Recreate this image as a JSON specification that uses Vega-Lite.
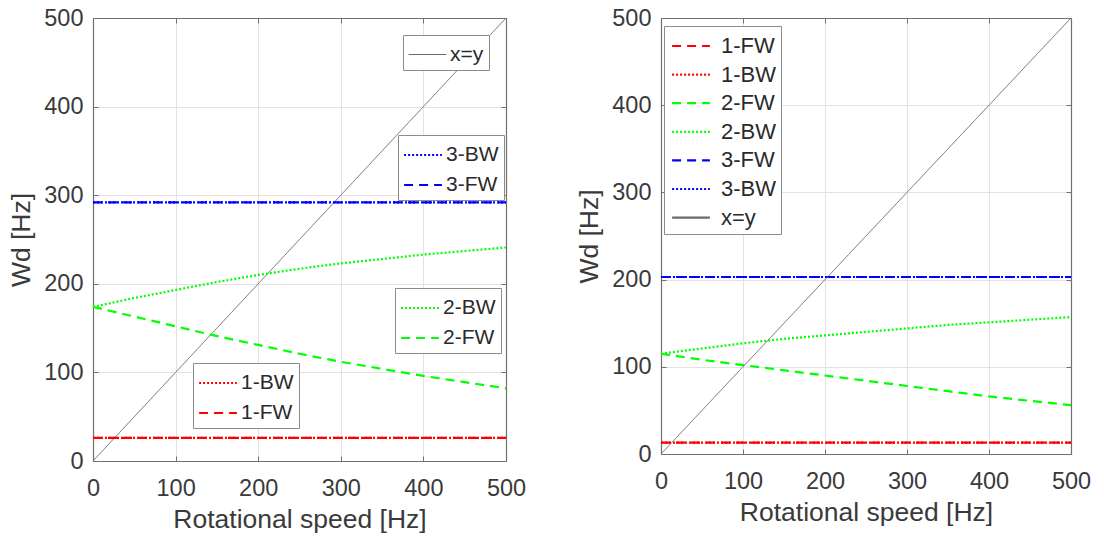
{
  "$schema": "https://vega.github.io/schema/vega-lite/v6.json",
  "padding": {"left": 8, "top": 6, "right": 0, "bottom": 0},
  "bounds": "flush",
  "spacing": 155,
  "background": "white",
  "config": {
    "font": "Liberation Sans",
    "view": {"stroke": null},
    "axis": {
      "labelFont": "Liberation Sans",
      "labelFontSize": 23.5,
      "labelColor": "#3a3a3a",
      "labelFlush": false,
      "titleFont": "Liberation Sans",
      "titleFontSize": 26.5,
      "titleFontWeight": "normal",
      "titleColor": "#3a3a3a",
      "gridColor": "#e2e2e2",
      "gridWidth": 1,
      "domainColor": "#707070",
      "domainWidth": 1.2,
      "tickColor": "#707070",
      "tickSize": -5
    },
    "axisX": {"labelPadding": 20, "titlePadding": 7},
    "axisY": {"labelPadding": 15, "titlePadding": 8},
    "legend": {
      "symbolType": "M-1.4,0H1.4",
      "symbolSize": 729,
      "symbolOffset": 5,
      "symbolStrokeWidth": 2.2,
      "labelFont": "Liberation Sans",
      "labelFontSize": 21,
      "labelColor": "#2a2a2a",
      "labelLimit": 0,
      "labelOffset": 8,
      "padding": 5,
      "rowPadding": 5,
      "strokeColor": "#8c8c8c",
      "fillColor": "white",
      "orient": "none"
    }
  },
  "datasets": {
    "speedA": [
      {"series": "x=y", "speed": 0, "freq": 0},
      {"series": "x=y", "speed": 500, "freq": 500},
      {"series": "1-BW", "speed": 0, "freq": 26},
      {"series": "1-BW", "speed": 500, "freq": 26},
      {"series": "1-FW", "speed": 0, "freq": 26},
      {"series": "1-FW", "speed": 500, "freq": 26},
      {"series": "3-BW", "speed": 0, "freq": 292},
      {"series": "3-BW", "speed": 500, "freq": 292},
      {"series": "3-FW", "speed": 0, "freq": 292},
      {"series": "3-FW", "speed": 500, "freq": 292},
      {"series": "2-BW", "speed": 0, "freq": 174},
      {"series": "2-BW", "speed": 50, "freq": 184},
      {"series": "2-BW", "speed": 100, "freq": 193},
      {"series": "2-BW", "speed": 150, "freq": 202},
      {"series": "2-BW", "speed": 200, "freq": 210},
      {"series": "2-BW", "speed": 250, "freq": 217},
      {"series": "2-BW", "speed": 300, "freq": 223},
      {"series": "2-BW", "speed": 350, "freq": 228},
      {"series": "2-BW", "speed": 400, "freq": 233},
      {"series": "2-BW", "speed": 450, "freq": 237},
      {"series": "2-BW", "speed": 500, "freq": 241},
      {"series": "2-FW", "speed": 0, "freq": 174},
      {"series": "2-FW", "speed": 50, "freq": 163},
      {"series": "2-FW", "speed": 100, "freq": 152},
      {"series": "2-FW", "speed": 150, "freq": 141},
      {"series": "2-FW", "speed": 200, "freq": 131},
      {"series": "2-FW", "speed": 250, "freq": 121},
      {"series": "2-FW", "speed": 300, "freq": 112},
      {"series": "2-FW", "speed": 350, "freq": 104},
      {"series": "2-FW", "speed": 400, "freq": 96},
      {"series": "2-FW", "speed": 450, "freq": 89},
      {"series": "2-FW", "speed": 500, "freq": 82}
    ],
    "speedB": [
      {"series": "1-FW", "speed": 0, "freq": 13},
      {"series": "1-FW", "speed": 500, "freq": 13},
      {"series": "1-BW", "speed": 0, "freq": 13},
      {"series": "1-BW", "speed": 500, "freq": 13},
      {"series": "2-FW", "speed": 0, "freq": 115},
      {"series": "2-FW", "speed": 50, "freq": 108},
      {"series": "2-FW", "speed": 100, "freq": 102},
      {"series": "2-FW", "speed": 150, "freq": 96},
      {"series": "2-FW", "speed": 200, "freq": 90},
      {"series": "2-FW", "speed": 250, "freq": 84},
      {"series": "2-FW", "speed": 300, "freq": 78},
      {"series": "2-FW", "speed": 350, "freq": 72},
      {"series": "2-FW", "speed": 400, "freq": 66},
      {"series": "2-FW", "speed": 450, "freq": 61},
      {"series": "2-FW", "speed": 500, "freq": 56},
      {"series": "2-BW", "speed": 0, "freq": 115},
      {"series": "2-BW", "speed": 50, "freq": 121},
      {"series": "2-BW", "speed": 100, "freq": 127},
      {"series": "2-BW", "speed": 150, "freq": 132},
      {"series": "2-BW", "speed": 200, "freq": 136},
      {"series": "2-BW", "speed": 250, "freq": 140},
      {"series": "2-BW", "speed": 300, "freq": 144},
      {"series": "2-BW", "speed": 350, "freq": 148},
      {"series": "2-BW", "speed": 400, "freq": 151},
      {"series": "2-BW", "speed": 450, "freq": 154},
      {"series": "2-BW", "speed": 500, "freq": 157},
      {"series": "3-FW", "speed": 0, "freq": 203},
      {"series": "3-FW", "speed": 500, "freq": 203},
      {"series": "3-BW", "speed": 0, "freq": 203},
      {"series": "3-BW", "speed": 500, "freq": 203},
      {"series": "x=y", "speed": 0, "freq": 0},
      {"series": "x=y", "speed": 500, "freq": 500}
    ]
  },
  "hconcat": [
    {
      "width": 413,
      "height": 443,
      "data": {"name": "speedA"},
      "resolve": {
        "scale": {"color": "independent", "strokeDash": "independent"},
        "legend": {"color": "independent", "strokeDash": "independent"},
        "axis": {"x": "independent", "y": "independent"}
      },
      "layer": [
        {
          "transform": [{"filter": "datum.series === 'x=y'"}],
          "mark": {"type": "line", "strokeWidth": 1, "clip": true},
          "encoding": {
            "x": {"field": "speed", "type": "quantitative", "scale": {"domain": [0, 500], "nice": false}, "axis": {"title": "Rotational speed [Hz]", "grid": true, "values": [0, 100, 200, 300, 400, 500]}},
            "y": {"field": "freq", "type": "quantitative", "scale": {"domain": [0, 500], "nice": false}, "axis": {"title": "Wd [Hz]", "grid": true, "values": [0, 100, 200, 300, 400, 500]}},
            "color": {"field": "series", "type": "nominal", "scale": {"domain": ["x=y"], "range": ["#6a6a6a"]}, "legend": {"title": null, "legendX": 310, "legendY": 17, "symbolStrokeWidth": 1.2}},
            "strokeDash": {"field": "series", "type": "nominal", "scale": {"domain": ["x=y"], "range": [[1, 0]]}, "legend": {"title": null, "legendX": 310, "legendY": 17, "symbolStrokeWidth": 1.2}}
          }
        },
        {
          "transform": [{"filter": "datum.series === '3-BW' || datum.series === '3-FW'"}],
          "mark": {"type": "line", "strokeWidth": 2.2},
          "encoding": {
            "x": {"field": "speed", "type": "quantitative", "scale": {"domain": [0, 500], "nice": false}, "axis": {"orient": "top", "title": null, "labels": false, "grid": false, "values": [0, 100, 200, 300, 400, 500]}},
            "y": {"field": "freq", "type": "quantitative", "scale": {"domain": [0, 500], "nice": false}, "axis": {"orient": "right", "title": null, "labels": false, "grid": false, "values": [0, 100, 200, 300, 400, 500]}},
            "color": {"field": "series", "type": "nominal", "scale": {"domain": ["3-BW", "3-FW"], "range": ["#0000ff", "#0000ff"]}, "legend": {"title": null, "legendX": 305, "legendY": 117}},
            "strokeDash": {"field": "series", "type": "nominal", "scale": {"domain": ["3-BW", "3-FW"], "range": [[2, 2], [9, 6]]}, "legend": {"title": null, "legendX": 305, "legendY": 117}}
          }
        },
        {
          "transform": [{"filter": "datum.series === '2-BW' || datum.series === '2-FW'"}],
          "mark": {"type": "line", "strokeWidth": 2.2},
          "encoding": {
            "x": {"field": "speed", "type": "quantitative", "scale": {"domain": [0, 500], "nice": false}, "axis": null},
            "y": {"field": "freq", "type": "quantitative", "scale": {"domain": [0, 500], "nice": false}, "axis": null},
            "color": {"field": "series", "type": "nominal", "scale": {"domain": ["2-BW", "2-FW"], "range": ["#00ff00", "#00ff00"]}, "legend": {"title": null, "legendX": 302, "legendY": 270}},
            "strokeDash": {"field": "series", "type": "nominal", "scale": {"domain": ["2-BW", "2-FW"], "range": [[2, 2], [9, 6]]}, "legend": {"title": null, "legendX": 302, "legendY": 270}}
          }
        },
        {
          "transform": [{"filter": "datum.series === '1-BW' || datum.series === '1-FW'"}],
          "mark": {"type": "line", "strokeWidth": 2.2},
          "encoding": {
            "x": {"field": "speed", "type": "quantitative", "scale": {"domain": [0, 500], "nice": false}, "axis": null},
            "y": {"field": "freq", "type": "quantitative", "scale": {"domain": [0, 500], "nice": false}, "axis": null},
            "color": {"field": "series", "type": "nominal", "scale": {"domain": ["1-BW", "1-FW"], "range": ["#ff0000", "#ff0000"]}, "legend": {"title": null, "legendX": 100, "legendY": 345}},
            "strokeDash": {"field": "series", "type": "nominal", "scale": {"domain": ["1-BW", "1-FW"], "range": [[2, 2], [9, 6]]}, "legend": {"title": null, "legendX": 100, "legendY": 345}}
          }
        }
      ]
    },
    {
      "width": 410,
      "height": 436,
      "data": {"name": "speedB"},
      "resolve": {"axis": {"x": "independent", "y": "independent"}},
      "layer": [
        {
          "transform": [{"filter": "datum.series !== 'x=y'"}],
          "mark": {"type": "line", "strokeWidth": 2.2},
          "encoding": {
            "x": {"field": "speed", "type": "quantitative", "scale": {"domain": [0, 500], "nice": false}, "axis": {"title": "Rotational speed [Hz]", "grid": true, "values": [0, 100, 200, 300, 400, 500]}},
            "y": {"field": "freq", "type": "quantitative", "scale": {"domain": [0, 500], "nice": false}, "axis": {"title": "Wd [Hz]", "grid": true, "values": [0, 100, 200, 300, 400, 500]}},
            "color": {"field": "series", "type": "nominal", "scale": {"domain": ["1-FW", "1-BW", "2-FW", "2-BW", "3-FW", "3-BW", "x=y"], "range": ["#ff0000", "#ff0000", "#00ff00", "#00ff00", "#0000ff", "#0000ff", "#6a6a6a"]}, "legend": {"title": null, "legendX": 571, "legendY": 8, "rowPadding": 2.6, "symbolOffset": 7, "labelOffset": 15, "labelFontSize": 22}},
            "strokeDash": {"field": "series", "type": "nominal", "scale": {"domain": ["1-FW", "1-BW", "2-FW", "2-BW", "3-FW", "3-BW", "x=y"], "range": [[9, 6], [2, 2], [9, 6], [2, 2], [9, 6], [2, 2], [1, 0]]}, "legend": {"title": null, "legendX": 571, "legendY": 8, "rowPadding": 2.6, "symbolOffset": 7, "labelOffset": 15, "labelFontSize": 22}}
          }
        },
        {
          "transform": [{"filter": "datum.series === 'x=y'"}],
          "mark": {"type": "line", "strokeWidth": 1, "clip": true},
          "encoding": {
            "x": {"field": "speed", "type": "quantitative", "scale": {"domain": [0, 500], "nice": false}, "axis": {"orient": "top", "title": null, "labels": false, "grid": false, "values": [0, 100, 200, 300, 400, 500]}},
            "y": {"field": "freq", "type": "quantitative", "scale": {"domain": [0, 500], "nice": false}, "axis": {"orient": "right", "title": null, "labels": false, "grid": false, "values": [0, 100, 200, 300, 400, 500]}},
            "color": {"field": "series", "type": "nominal", "scale": {"domain": ["1-FW", "1-BW", "2-FW", "2-BW", "3-FW", "3-BW", "x=y"], "range": ["#ff0000", "#ff0000", "#00ff00", "#00ff00", "#0000ff", "#0000ff", "#6a6a6a"]}, "legend": {"title": null, "legendX": 571, "legendY": 8, "rowPadding": 2.6, "symbolOffset": 7, "labelOffset": 15, "labelFontSize": 22}},
            "strokeDash": {"field": "series", "type": "nominal", "scale": {"domain": ["1-FW", "1-BW", "2-FW", "2-BW", "3-FW", "3-BW", "x=y"], "range": [[9, 6], [2, 2], [9, 6], [2, 2], [9, 6], [2, 2], [1, 0]]}, "legend": {"title": null, "legendX": 571, "legendY": 8, "rowPadding": 2.6, "symbolOffset": 7, "labelOffset": 15, "labelFontSize": 22}}
          }
        }
      ]
    }
  ]
}
